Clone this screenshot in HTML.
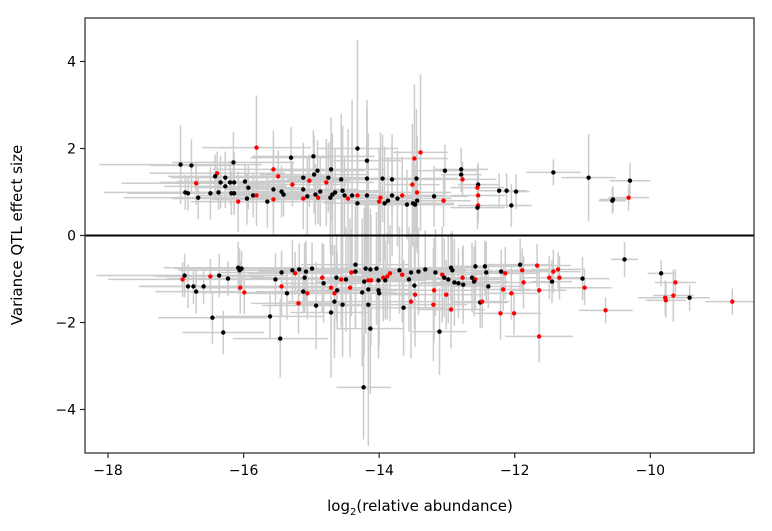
<!DOCTYPE html>
<html><head><meta charset="utf-8"><style>
html,body{margin:0;padding:0;background:#fff;}
svg{display:block;font-family:"DejaVu Sans","Liberation Sans",sans-serif;}
</style></head><body>
<svg id="chart" width="772" height="531" viewBox="0 0 772 531" xmlns="http://www.w3.org/2000/svg">
<defs><clipPath id="plotclip"><rect x="85" y="18" width="669" height="435"/></clipPath></defs>
<rect x="0" y="0" width="772" height="531" fill="#fff"/>
<g id="bars" clip-path="url(#plotclip)"></g>
<g id="pts" clip-path="url(#plotclip)"></g>
<g id="axes"></g>
<text x="22" y="235" transform="rotate(-90 22 235)" text-anchor="middle" font-size="15" fill="#000">Variance QTL effect size</text>
<text x="420" y="511" text-anchor="middle" font-size="15" fill="#000">log<tspan font-size="10" dy="4">2</tspan><tspan dy="-4">(relative abundance)</tspan></text>
</svg>
<script>
const xTicks=[-18,-16,-14,-12,-10];
const yTicks=[-4,-2,0,2,4];
const xTickLabels=["\u221218","\u221216","\u221214","\u221212","\u221210"];
const yTickLabels=["\u22124","\u22122","0","2","4"];
const xVals=[
-16.93,-16.77,-15.81,-16.15,-16.39,-16.42,-16.27,-16.70,-16.34,-16.20,
-16.14,-16.27,-15.98,-15.93,-15.56,-15.49,-15.30,-14.97,-15.28,-15.12,
-15.03,-14.96,-14.91,-14.71,-14.75,-14.78,-14.56,-14.32,-14.18,-14.18,
-13.95,-13.81,-16.86,-16.82,-16.67,-16.49,-16.37,-16.18,-16.14,-16.08,
-15.95,-15.86,-15.81,-15.65,-15.56,-15.56,-15.44,-15.41,-15.12,-15.12,
-15.06,-14.94,-14.90,-14.87,-14.72,-14.69,-14.65,-14.54,-14.51,-14.46,
-14.40,-14.32,-14.32,-14.18,-13.98,-14.00,-13.92,-13.87,-13.81,-13.73,
-13.66,-13.59,-13.50,-13.47,-13.44,-13.44,-13.51,-13.45,-13.48,-13.39,
-13.19,-13.05,-13.03,-12.79,-12.79,-12.77,-12.54,-12.55,-12.54,-12.54,
-12.55,-12.23,-12.12,-11.98,-12.05,-11.43,-10.91,-10.55,-10.56,-10.32,
-10.30,
-16.87,-16.90,-16.82,-16.74,-16.70,-16.59,-16.49,-16.36,-16.23,-16.08,
-16.03,-16.06,-16.05,-15.99,-16.46,-16.30,-15.61,-15.46,-15.53,-15.44,
-15.44,-15.36,-15.28,-15.24,-15.18,-15.08,-15.10,-14.99,-15.12,-15.06,
-15.19,-14.93,-14.84,-14.82,-14.71,-14.66,-14.62,-14.66,-14.71,-14.54,
-14.63,-14.56,-14.49,-14.41,-14.35,-14.35,-14.43,-14.20,-14.13,-14.04,
-14.22,-14.16,-14.12,-14.01,-14.16,-14.25,-14.01,-14.00,-14.16,-14.13,
-13.94,-13.84,-13.88,-13.91,-13.70,-13.66,-13.56,-13.53,-13.48,-13.47,
-13.53,-13.64,-13.42,-13.32,-13.17,-13.19,-13.20,-13.11,-13.07,-13.04,
-12.98,-12.94,-12.92,-12.89,-12.83,-12.77,-12.76,-13.01,-12.94,-12.63,
-12.58,-12.60,-12.58,-12.44,-12.42,-12.39,-12.51,-12.48,-12.20,-12.14,
-12.17,-12.05,-12.21,-12.01,-11.92,-11.89,-11.87,-11.67,-11.64,-11.64,
-11.43,-11.36,-11.49,-11.34,-11.45,-14.23,-11.00,-10.97,-10.66,-10.38,
-9.84,-9.63,-9.78,-9.77,-9.66,-9.42,-8.79
];
const yVals=[
1.63,1.61,2.02,1.68,1.43,1.36,1.33,1.20,1.22,1.22,
1.22,1.13,1.24,1.10,1.52,1.36,1.79,1.82,1.17,1.33,
1.26,1.40,1.49,1.52,1.33,1.22,1.29,2.00,1.72,1.31,
1.31,1.29,0.99,0.97,0.87,0.97,0.99,0.97,0.97,0.78,
0.85,0.92,0.92,0.78,1.06,0.83,1.01,0.94,0.85,1.06,
0.90,0.94,0.87,1.01,0.87,0.94,0.99,1.03,0.92,0.85,
0.92,0.92,0.74,0.92,0.87,0.78,0.74,0.80,0.92,0.85,
0.92,0.71,0.74,0.71,0.80,0.99,1.17,1.31,1.77,1.91,
0.90,0.80,1.49,1.52,1.40,1.29,1.17,1.10,0.92,0.69,
0.64,1.03,1.03,1.01,0.69,1.45,1.33,0.83,0.80,0.87,
1.26,
-0.92,-1.01,-1.17,-1.17,-1.29,-1.17,-0.94,-0.92,-0.99,-0.74,
-0.76,-0.80,-1.20,-1.31,-1.89,-2.23,-1.86,-2.37,-1.01,-0.85,
-1.17,-1.33,-0.80,-0.87,-0.78,-0.83,-0.97,-0.76,-1.29,-1.33,
-1.56,-1.61,-0.97,-1.10,-1.20,-1.33,-1.26,-1.52,-1.77,-1.59,
-0.97,-1.01,-1.01,-0.85,-0.67,-0.83,-1.20,-0.76,-0.78,-0.76,
-1.06,-1.03,-1.03,-1.03,-1.24,-1.31,-1.26,-1.33,-1.59,-2.14,
-0.97,-0.87,-0.94,-1.03,-0.80,-0.90,-1.01,-0.85,-1.15,-1.36,
-1.52,-1.66,-0.83,-0.78,-0.85,-1.26,-1.59,-2.21,-0.90,-0.97,
-1.01,-0.74,-0.80,-1.08,-1.10,-0.97,-1.13,-1.36,-1.70,-0.97,
-1.01,-1.06,-0.71,-0.71,-0.85,-1.17,-1.54,-1.52,-0.83,-0.87,
-1.24,-1.33,-1.79,-1.79,-0.67,-0.80,-1.08,-0.69,-1.26,-2.32,
-0.83,-0.78,-0.97,-0.97,-1.06,-3.49,-0.99,-1.20,-1.72,-0.55,
-0.87,-1.08,-1.43,-1.49,-1.38,-1.43,-1.52
];
const redFlags=[
0,0,1,0,1,0,0,1,0,0,
0,0,0,0,1,1,0,0,1,0,
1,0,0,0,0,1,0,0,0,0,
0,0,0,0,0,0,0,0,0,1,
0,0,1,0,0,1,0,0,1,0,
0,0,1,0,0,0,0,0,0,1,
0,1,0,0,1,1,0,0,0,0,
1,0,0,0,0,1,1,0,1,1,
0,1,0,0,0,1,0,1,1,1,
0,0,0,0,0,0,0,0,0,1,
0,
0,1,0,0,0,0,1,0,0,0,
0,0,1,1,0,0,0,0,0,0,
1,0,0,1,0,0,0,0,0,1,
1,0,1,0,1,1,0,0,0,0,
0,1,0,1,0,0,1,0,0,0,
0,1,1,0,0,0,0,0,0,0,
1,1,1,0,0,1,0,0,0,1,
1,0,0,0,0,1,1,0,1,0,
0,0,0,0,0,1,0,1,1,0,
1,0,0,0,0,0,0,1,0,1,
1,1,1,1,0,1,1,1,1,1,
1,1,1,1,0,0,0,1,1,0,
0,1,1,1,1,0,1
];
const xErr=[
1.2,0.6,0.8,0.9,1.0,0.7,0.8,1.1,0.9,0.8,
0.7,0.9,1.0,0.8,0.9,0.7,0.6,0.9,0.8,0.7,
0.6,0.8,0.7,0.8,0.6,0.7,0.8,0.6,0.5,0.9,
0.5,0.6,1.2,0.9,1.1,1.0,0.8,0.9,1.0,0.7,
1.1,0.8,0.7,1.0,0.7,0.9,0.8,0.7,0.6,0.8,
0.7,0.9,0.8,0.7,0.9,0.6,0.8,0.6,0.9,0.7,
0.6,0.8,0.5,0.7,0.6,0.5,0.7,0.6,0.5,0.8,
0.6,0.7,0.6,0.5,0.4,0.5,0.4,0.6,0.5,0.4,
0.5,0.4,0.5,0.4,0.3,0.5,0.3,0.4,0.4,0.3,
0.4,0.3,0.3,0.2,0.3,0.4,0.4,0.2,0.2,0.3,
0.3,
1.3,1.1,0.7,0.8,0.6,0.9,0.8,1.0,0.9,1.1,
1.0,0.9,0.6,0.7,0.8,0.6,0.8,0.7,0.8,0.9,
0.8,0.6,0.9,0.7,0.6,0.7,0.8,0.6,0.7,0.6,
0.7,0.8,0.7,0.6,0.8,0.7,0.6,0.7,0.6,0.7,
0.8,0.7,0.6,0.7,0.8,0.6,0.5,0.7,0.6,0.8,
0.7,0.6,0.5,0.7,0.6,0.5,0.6,0.5,0.6,0.5,
0.5,0.6,0.7,0.5,0.7,0.6,0.5,0.6,0.7,0.5,
0.5,0.6,0.7,0.6,0.5,0.6,0.5,0.4,0.6,0.5,
0.6,0.5,0.6,0.5,0.6,0.5,0.4,0.6,0.5,0.5,
0.4,0.5,0.4,0.5,0.4,0.5,0.4,0.4,0.4,0.5,
0.4,0.4,0.4,0.4,0.5,0.4,0.4,0.5,0.4,0.5,
0.4,0.4,0.4,0.3,0.3,0.4,0.4,0.4,0.4,0.2,
0.2,0.3,0.4,0.3,0.3,0.3,0.4
];
const yErr=[
0.9,0.6,1.2,0.7,0.5,0.5,0.6,0.5,0.6,0.5,
0.7,0.5,0.4,0.5,0.9,0.6,0.7,0.6,0.5,0.8,
0.6,0.9,0.7,1.2,0.8,1.0,1.5,2.5,1.4,1.6,
1.0,0.8,0.4,0.4,0.5,0.6,0.4,0.5,0.5,0.7,
0.6,0.5,0.7,0.6,0.9,0.8,0.6,0.5,0.7,0.8,
0.9,0.7,0.6,0.8,1.3,1.4,1.0,1.5,0.9,1.6,
2.2,1.8,1.2,2.0,1.5,1.2,1.3,1.0,1.4,1.1,
0.9,0.8,1.0,0.9,1.2,1.3,1.4,1.6,1.7,1.8,
0.7,0.6,0.6,0.5,0.4,0.4,0.5,0.5,0.5,0.4,
0.5,0.4,0.4,0.4,0.5,0.3,1.0,0.3,0.3,0.3,
0.4,
0.5,0.4,0.5,0.4,0.5,0.4,0.4,0.5,0.4,0.6,
0.4,0.5,0.6,0.5,0.6,0.5,0.5,0.9,0.6,0.5,
0.7,0.6,0.7,0.5,0.6,0.7,0.8,0.6,0.5,0.6,
0.7,1.0,0.8,0.9,1.0,1.1,0.9,1.3,1.5,1.2,
1.0,1.1,1.2,1.0,1.4,1.3,1.6,1.5,1.4,1.3,
1.7,1.6,1.5,1.8,3.6,1.7,1.4,1.2,1.3,1.5,
1.0,1.1,1.0,0.9,1.0,1.1,1.2,0.9,1.0,1.2,
1.3,1.1,1.0,0.9,1.0,1.2,1.3,1.0,1.1,0.9,
1.0,0.8,0.9,1.0,0.8,0.7,0.9,0.8,0.9,0.8,
0.7,0.8,0.6,0.6,0.7,0.5,0.6,0.6,0.5,0.6,
0.5,0.6,0.6,0.5,0.6,0.5,0.6,0.5,0.6,0.6,
0.5,0.4,0.5,0.5,0.5,1.2,0.5,0.4,0.3,0.4,
0.3,0.3,0.4,0.4,0.6,0.3,0.3
];
const X0=85,X1=754,Y0=18,Y1=453;
const XMIN=-18.34,XMAX=-8.47,YMIN=-5,YMAX=5;
function sx(v){return X0+(v-XMIN)/(XMAX-XMIN)*(X1-X0);}
function sy(v){return Y1-(v-YMIN)/(YMAX-YMIN)*(Y1-Y0);}
const NS="http://www.w3.org/2000/svg";
function mk(tag,attrs){const e=document.createElementNS(NS,tag);for(const k in attrs)e.setAttribute(k,attrs[k]);return e;}
const bars=document.getElementById('bars'),pts=document.getElementById('pts'),axes=document.getElementById('axes');
const n=Math.min(xVals.length,yVals.length);
for(let i=0;i<n;i++){
  const xe=xErr[i]||0.5, ye=yErr[i]||0.5;
  const h=mk('line',{x1:sx(xVals[i]-xe),x2:sx(xVals[i]+xe),y1:sy(yVals[i]),y2:sy(yVals[i]),stroke:'#cccccc','stroke-width':1.5});
  
  
  bars.appendChild(h);
  const v=mk('line',{x1:sx(xVals[i]),x2:sx(xVals[i]),y1:sy(yVals[i]-ye),y2:sy(yVals[i]+ye),stroke:'#cccccc','stroke-width':1.5});
  
  
  bars.appendChild(v);
}
const zl=mk('line',{x1:X0,x2:X1,y1:sy(0),y2:sy(0),stroke:'#000','stroke-width':2});


pts.appendChild(zl);
for(let i=0;i<n;i++){
  const c=mk('circle',{cx:sx(xVals[i]),cy:sy(yVals[i]),r:2.2,fill:redFlags[i]?'#ff0000':'#000000'});
  
  
  pts.appendChild(c);
}
const frame=mk('rect',{x:X0,y:Y0,width:X1-X0,height:Y1-Y0,fill:'none',stroke:'#262626','stroke-width':1.2});


axes.appendChild(frame);
xTicks.forEach((t,i)=>{
  const x=sx(t);
  const tk=mk('line',{x1:x,x2:x,y1:Y1,y2:Y1+5,stroke:'#262626','stroke-width':1.2});
  
  
  axes.appendChild(tk);
  const tx=mk('text',{x:x,y:Y1+22,'text-anchor':'middle','font-size':14,fill:'#000'});
  tx.textContent=xTickLabels[i];
  
  
  axes.appendChild(tx);
});
yTicks.forEach((t,i)=>{
  const y=sy(t);
  const tk=mk('line',{x1:X0-5,x2:X0,y1:y,y2:y,stroke:'#262626','stroke-width':1.2});
  
  
  axes.appendChild(tk);
  const tx=mk('text',{x:X0-9,y:y+5,'text-anchor':'end','font-size':14,fill:'#000'});
  tx.textContent=yTickLabels[i];
  
  
  axes.appendChild(tx);
});
</script>
</body></html>
